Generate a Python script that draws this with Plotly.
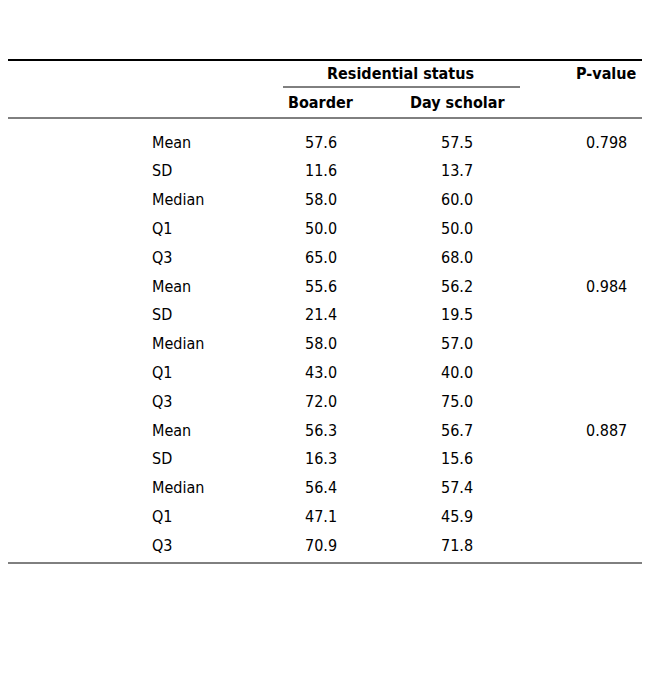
import plotly.graph_objects as go

groups = ["%MCQs", "%SEQs", "Overall total"]
stats = ["Mean", "SD", "Median", "Q1", "Q3"]
boarder = [57.6, 11.6, 58.0, 50.0, 65.0, 55.6, 21.4, 58.0, 43.0, 72.0, 56.3, 16.3, 56.4, 47.1, 70.9]
day_scholar = [57.5, 13.7, 60.0, 50.0, 68.0, 56.2, 19.5, 57.0, 40.0, 75.0, 56.7, 15.6, 57.4, 45.9, 71.8]
p_values = ["0.798", "0.984", "0.887"]
footnotes = ["MCQs: Multiple-choice questions", "SEQs: Short-essay questions",
             "SD: Standard deviation", "Q: Quartile"]

FONT = "DejaVu Sans Condensed, Liberation Sans Narrow, Liberation Sans, sans-serif"
fig = go.Figure()
ann = []

def txt(x, y, s, anchor="left", size=16, bold=False):
    if bold:
        s = "<b>" + s + "</b>"
    ann.append(dict(x=x, y=y, text=s, xref="x", yref="y", showarrow=False,
                    xanchor=anchor, yanchor="middle",
                    font=dict(family=FONT, size=size, color="black")))

txt(4, 18, "<b>Table-1:</b> Comparison of the academic performance of boarder and day scholar students", size=14)
txt(4, 43, "in MCQs & SEQs examination.", size=14)
txt(400, 73, "Residential status", "center", bold=True)
txt(606, 73, "P-value", "center", bold=True)
txt(321, 102, "Boarder", "center", bold=True)
txt(457, 102, "Day scholar", "center", bold=True)

row0, step = 142, 28.8
for i in range(len(boarder)):
    y = row0 + i * step
    g = i // 5
    if i % 5 == 0:
        txt(4, y, groups[g])
        txt(606, y, p_values[g], "center")
    txt(150, y, stats[i % 5])
    txt(321, y, f"{boarder[i]:.1f}", "center")
    txt(457, y, f"{day_scholar[i]:.1f}", "center")

for k, f in enumerate(footnotes):
    txt(4, 582 + k * 26, f, size=14)

lines = [(0, 650, 60, 2), (283, 520, 87, 1), (0, 650, 118, 1), (0, 650, 563, 1)]
for x0, x1, y, w in lines:
    fig.add_shape(type="line", x0=x0, x1=x1, y0=y, y1=y, xref="x", yref="y",
                  line=dict(color="black", width=w))

# offset by the page's 8px body margin
fig.update_layout(width=650, height=680, margin=dict(l=0, r=0, t=0, b=0),
                  plot_bgcolor="white", paper_bgcolor="white", annotations=ann,
                  xaxis=dict(range=[8, 658], visible=False),
                  yaxis=dict(range=[688, 8], visible=False), showlegend=False)
fig.write_html("out.html")
